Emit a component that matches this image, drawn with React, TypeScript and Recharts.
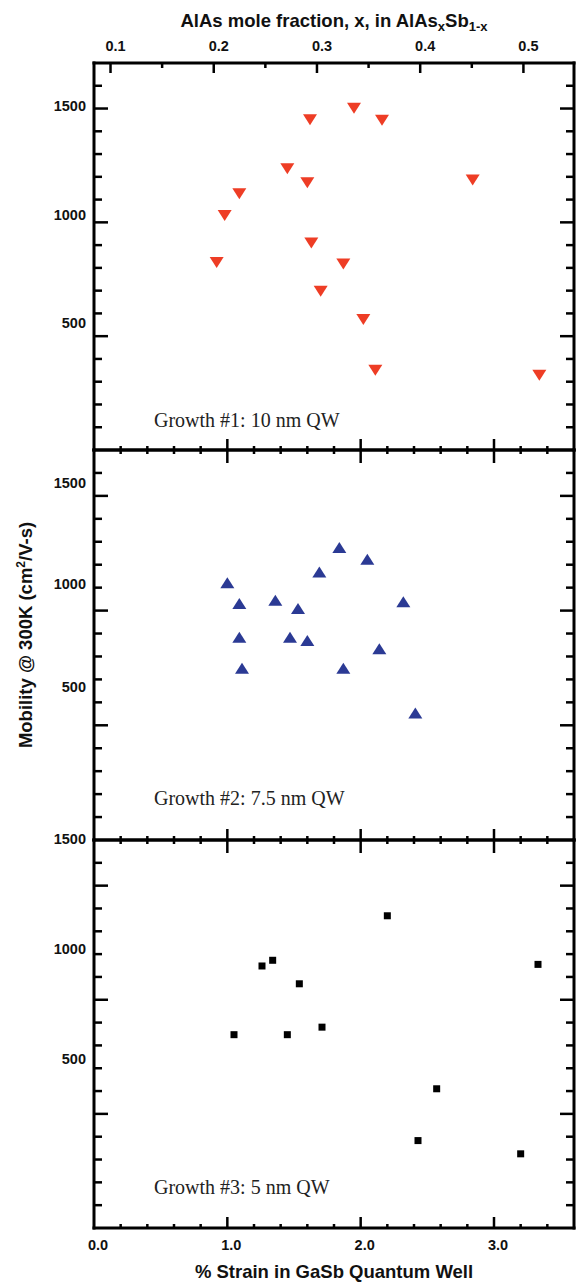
import { Scatter, ScatterChart, XAxis, YAxis } from "recharts";

// % strain in the GaSb quantum well vs 300K mobility, three growths
const growth1 = [
  { strain: 0.92, mobility: 826 },
  { strain: 0.98, mobility: 1032 },
  { strain: 1.09, mobility: 1128 },
  { strain: 1.45, mobility: 1238 },
  { strain: 1.6, mobility: 1176 },
  { strain: 1.62, mobility: 1453 },
  { strain: 1.63, mobility: 912 },
  { strain: 1.87, mobility: 819 },
  { strain: 1.7, mobility: 699 },
  { strain: 1.95, mobility: 1503 },
  { strain: 2.16, mobility: 1451 },
  { strain: 2.02, mobility: 576 },
  { strain: 2.11, mobility: 353 },
  { strain: 2.84, mobility: 1188 },
  { strain: 3.34, mobility: 331 },
];

const growth2 = [
  { strain: 1.0, mobility: 1119 },
  { strain: 1.09, mobility: 1029 },
  { strain: 1.09, mobility: 882 },
  { strain: 1.11, mobility: 746 },
  { strain: 1.36, mobility: 1043 },
  { strain: 1.53, mobility: 1007 },
  { strain: 1.47, mobility: 882 },
  { strain: 1.6, mobility: 867 },
  { strain: 1.69, mobility: 1166 },
  { strain: 1.84, mobility: 1273 },
  { strain: 1.87, mobility: 746 },
  { strain: 2.05, mobility: 1222 },
  { strain: 2.14, mobility: 831 },
  { strain: 2.32, mobility: 1036 },
  { strain: 2.41, mobility: 551 },
];

const growth3 = [
  { strain: 1.05, mobility: 847 },
  { strain: 1.26, mobility: 1148 },
  { strain: 1.34, mobility: 1173 },
  { strain: 1.54, mobility: 1070 },
  { strain: 1.45, mobility: 847 },
  { strain: 1.71, mobility: 880 },
  { strain: 2.2, mobility: 1368 },
  { strain: 2.57, mobility: 610 },
  { strain: 2.43, mobility: 383 },
  { strain: 3.2, mobility: 325 },
  { strain: 3.33, mobility: 1155 },
];

const strainTicks = [
  0, 0.2, 0.4, 0.6, 0.8, 1, 1.2, 1.4, 1.6, 1.8, 2, 2.2, 2.4, 2.6, 2.8, 3, 3.2, 3.4,
];
const strainLabelTicks = [0, 1, 2, 3];
const alasTicks = [0.1, 0.15, 0.2, 0.25, 0.3, 0.35, 0.4, 0.45, 0.5];
const alasLabelTicks = [0.1, 0.2, 0.3, 0.4, 0.5];
const mobilityTicks = [
  100, 200, 300, 400, 500, 600, 700, 800, 900, 1000, 1100, 1200, 1300, 1400, 1500, 1600,
];
const mobilityLabelTicks = [500, 1000, 1500];

const panelTitles = ["Growth #1: 10 nm QW", "Growth #2: 7.5 nm QW", "Growth #3: 5 nm QW"];

const SANS = '"Liberation Sans", Arial, sans-serif';
const SERIF = '"Liberation Serif", "Times New Roman", serif';
const LINE = "#000";

type TickProps = { x?: number; y?: number; payload?: { value: number } };

function BottomTick({ x = 0, y = 0, payload, showLabel }: TickProps & { showLabel: boolean }) {
  const v = payload?.value ?? 0;
  const major = strainLabelTicks.includes(v);
  return (
    <g>
      {v > 0 && <line x1={x} x2={x} y1={y} y2={y - (major ? 11 : 4)} stroke={LINE} strokeWidth={2.5} />}
      {showLabel && major && (
        <text x={x + 4} y={y + 22} textAnchor="middle" fontFamily={SANS} fontWeight="bold" fontSize={14.5} fill="#111">
          {v.toFixed(1)}
        </text>
      )}
    </g>
  );
}

function TopStrainTick({ x = 0, y = 0, payload }: TickProps) {
  const v = payload?.value ?? 0;
  if (v <= 0) return <g />;
  const major = strainLabelTicks.includes(v);
  return <line x1={x} x2={x} y1={y} y2={y + (major ? 13 : 4)} stroke={LINE} strokeWidth={2.5} />;
}

function AlasTick({ x = 0, y = 0, payload }: TickProps) {
  const v = payload?.value ?? 0;
  const major = alasLabelTicks.includes(v);
  return (
    <g>
      <line x1={x} x2={x} y1={y} y2={y + (major ? 10 : 5)} stroke={LINE} strokeWidth={2.5} />
      {major && (
        <text x={x + 5} y={y - 12} textAnchor="middle" fontFamily={SANS} fontWeight="bold" fontSize={14.5} fill="#111">
          {v.toFixed(1)}
        </text>
      )}
    </g>
  );
}

// the stitched original prints its left labels a little above their tick marks
function LeftTick({ x = 0, y = 0, payload, labelShift }: TickProps & { labelShift: Record<number, number> }) {
  const v = payload?.value ?? 0;
  const major = v % 500 === 0;
  return (
    <g>
      <line x1={x} x2={x + (major ? 14 : 8)} y1={y} y2={y} stroke={LINE} strokeWidth={2.5} />
      {mobilityLabelTicks.includes(v) && (
        <text
          x={x - 8}
          y={y + 5 + (labelShift[v] ?? 0)}
          textAnchor="end"
          fontFamily={SANS}
          fontWeight="bold"
          fontSize={14.5}
          fill="#111"
        >
          {v}
        </text>
      )}
    </g>
  );
}

function RightTick({ x = 0, y = 0, payload }: TickProps) {
  const major = (payload?.value ?? 0) % 500 === 0;
  return <line x1={x} x2={x - (major ? 14 : 8)} y1={y} y2={y} stroke={LINE} strokeWidth={2.5} />;
}

function DownTriangle({ cx = 0, cy = 0 }: { cx?: number; cy?: number }) {
  return <polygon points={`${cx - 7},${cy - 5} ${cx + 7},${cy - 5} ${cx},${cy + 6}`} fill="#EE3D25" />;
}

function UpTriangle({ cx = 0, cy = 0 }: { cx?: number; cy?: number }) {
  return <polygon points={`${cx},${cy - 6} ${cx + 7},${cy + 5} ${cx - 7},${cy + 5}`} fill="#2B3A94" />;
}

function SquareMark({ cx = 0, cy = 0 }: { cx?: number; cy?: number }) {
  return <rect x={cx - 3.5} y={cy - 3.5} width={7} height={7} fill="#000" />;
}

type PanelProps = {
  data: { strain: number; mobility: number }[];
  shape: (p: any) => JSX.Element;
  top: number;
  height: number;
  margin: { top: number; right: number; bottom: number; left: number };
  labelShift: Record<number, number>;
  alasTop?: boolean;
  bottomLabels?: boolean;
};

const frame = { stroke: LINE, strokeWidth: 3, strokeLinecap: "square" as const };

function Panel({ data, shape, top, height, margin, labelShift, alasTop, bottomLabels }: PanelProps) {
  return (
    <div style={{ position: "absolute", left: 0, top }}>
      <ScatterChart width={579} height={height} margin={margin} style={{ overflow: "visible" }}>
        <XAxis
          xAxisId="b"
          dataKey="strain"
          type="number"
          orientation="bottom"
          height={1}
          domain={[0, 3.6]}
          allowDataOverflow
          ticks={strainTicks}
          interval={0}
          tickSize={0}
          tickMargin={0}
          tickLine={false}
          axisLine={frame}
          tick={(p: any) => <BottomTick {...p} showLabel={!!bottomLabels} />}
        />
        {alasTop ? (
          <XAxis
            xAxisId="t"
            dataKey="strain"
            type="number"
            orientation="top"
            height={1}
            domain={[0.084, 0.549]}
            allowDataOverflow
            ticks={alasTicks}
            interval={0}
            tickSize={0}
            tickMargin={0}
            tickLine={false}
            axisLine={frame}
            tick={(p: any) => <AlasTick {...p} />}
          />
        ) : (
          <XAxis
            xAxisId="t"
            dataKey="strain"
            type="number"
            orientation="top"
            height={1}
            domain={[0, 3.6]}
            allowDataOverflow
            ticks={strainTicks}
            interval={0}
            tickSize={0}
            tickMargin={0}
            tickLine={false}
            axisLine={frame}
            tick={(p: any) => <TopStrainTick {...p} />}
          />
        )}
        <YAxis
          yAxisId="y"
          dataKey="mobility"
          type="number"
          orientation="left"
          width={1}
          domain={[0, 1700]}
          allowDataOverflow
          ticks={mobilityTicks}
          interval={0}
          tickSize={0}
          tickMargin={0}
          tickLine={false}
          axisLine={frame}
          tick={(p: any) => <LeftTick {...p} labelShift={labelShift} />}
        />
        <YAxis
          yAxisId="r"
          dataKey="mobility"
          type="number"
          orientation="right"
          width={1}
          domain={[0, 1700]}
          allowDataOverflow
          ticks={mobilityTicks}
          interval={0}
          tickSize={0}
          tickMargin={0}
          tickLine={false}
          axisLine={frame}
          tick={(p: any) => <RightTick {...p} />}
        />
        <Scatter data={data} xAxisId="b" yAxisId="y" shape={shape} isAnimationActive={false} />
      </ScatterChart>
    </div>
  );
}

export default function App() {
  return (
    <div style={{ position: "absolute", left: 0, top: 0, width: 579, height: 1284, background: "#fff" }}>
      <Panel
        data={growth1}
        shape={(p) => <DownTriangle {...p} />}
        top={0}
        height={470}
        margin={{ top: 62, right: 4, bottom: 19, left: 93 }}
        labelShift={{ 1500: -3, 1000: -7, 500: -13 }}
        alasTop
      />
      <Panel
        data={growth2}
        shape={(p) => <UpTriangle {...p} />}
        top={430}
        height={430}
        margin={{ top: 19, right: 4, bottom: 19, left: 93 }}
        labelShift={{ 1500: -13, 1000: -27, 500: -38 }}
      />
      <Panel
        data={growth3}
        shape={(p) => <SquareMark {...p} />}
        top={820}
        height={464}
        margin={{ top: 19, right: 4, bottom: 55, left: 93 }}
        labelShift={{ 1500: -47, 1000: -51, 500: -55 }}
        bottomLabels
      />
      <svg
        width={579}
        height={1284}
        style={{ position: "absolute", left: 0, top: 0, pointerEvents: "none" }}
      >
        <text x={334} y={27} textAnchor="middle" fontFamily={SANS} fontWeight="bold" fontSize={18.5} fill="#111">
          AlAs mole fraction, x, in AlAs
          <tspan dy={4} fontSize={13}>x</tspan>
          <tspan dy={-4}>Sb</tspan>
          <tspan dy={4} fontSize={13}>1-x</tspan>
        </text>
        <text x={334} y={1278} textAnchor="middle" fontFamily={SANS} fontWeight="bold" fontSize={18.5} fill="#111">
          % Strain in GaSb Quantum Well
        </text>
        <text
          transform="translate(32, 635) rotate(-90)"
          textAnchor="middle"
          fontFamily={SANS}
          fontWeight="bold"
          fontSize={18.5}
          fill="#111"
        >
          Mobility @ 300K (cm<tspan dy={-7} fontSize={12}>2</tspan>
          <tspan dy={7}>/V-s)</tspan>
        </text>
        <text x={154} y={427} fontFamily={SERIF} fontSize={20} fill="#222">{panelTitles[0]}</text>
        <text x={154} y={805} fontFamily={SERIF} fontSize={20} fill="#222">{panelTitles[1]}</text>
        <text x={154} y={1194} fontFamily={SERIF} fontSize={20} fill="#222">{panelTitles[2]}</text>
      </svg>
    </div>
  );
}
